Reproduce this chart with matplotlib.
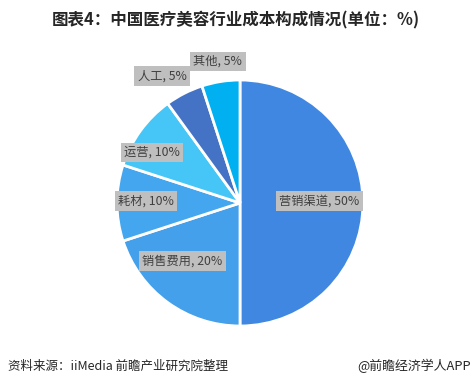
import matplotlib
matplotlib.use("Agg")
import matplotlib.pyplot as plt
import numpy as np

plt.rcParams['font.family'] = ['Noto Sans CJK SC', 'DejaVu Sans']

categories = ['营销渠道', '销售费用', '耗材', '运营', '人工', '其他']
values = [50, 20, 10, 10, 5, 5]
colors = ['#3F87E1', '#44A0EA', '#43A6EE', '#45C6F6', '#4472C4', '#00B0F0']
# label offsets (in radius units) relative to pie centre
label_pos = [(0.645, 0.016), (-0.47, -0.47), (-0.764, 0.016), (-0.715, 0.41), (-0.634, 1.03), (-0.18, 1.15)]

W, H = 472, 388
fig = plt.figure(figsize=(W / 100, H / 100), dpi=100)
cx, cy, r = 240, 203, 123
ax = fig.add_axes([(cx - r) / W, (H - cy - r) / H, 2 * r / W, 2 * r / H])
ax.pie(values, colors=colors, startangle=90, counterclock=False,
       wedgeprops=dict(edgecolor='white', linewidth=2))
ax.set_xlim(-1, 1)
ax.set_ylim(-1, 1)
ax.set_aspect('equal')
ax.axis('off')

for cat, v, (lx, ly) in zip(categories, values, label_pos):
    ax.text(lx, ly, f'{cat}, {v}%', ha='center', va='center', fontsize=8.8,
            color='#404040',
            bbox=dict(boxstyle='square,pad=0.28', facecolor='#BFBFBF', edgecolor='none'))

fig.text(0.5, 1 - 20 / H, '图表4：中国医疗美容行业成本构成情况(单位：%)', ha='center', va='center',
         fontsize=11.9, fontweight='bold', color='#262626')
fig.text(8 / W, 1 - 366 / H, '资料来源：iiMedia 前瞻产业研究院整理', ha='left', va='center',
         fontsize=9, color='#262626')
fig.text(1 - 1 / W, 1 - 366 / H, '@前瞻经济学人APP', ha='right', va='center',
         fontsize=9.3, color='#262626')

fig.savefig('out.png', dpi=100)
